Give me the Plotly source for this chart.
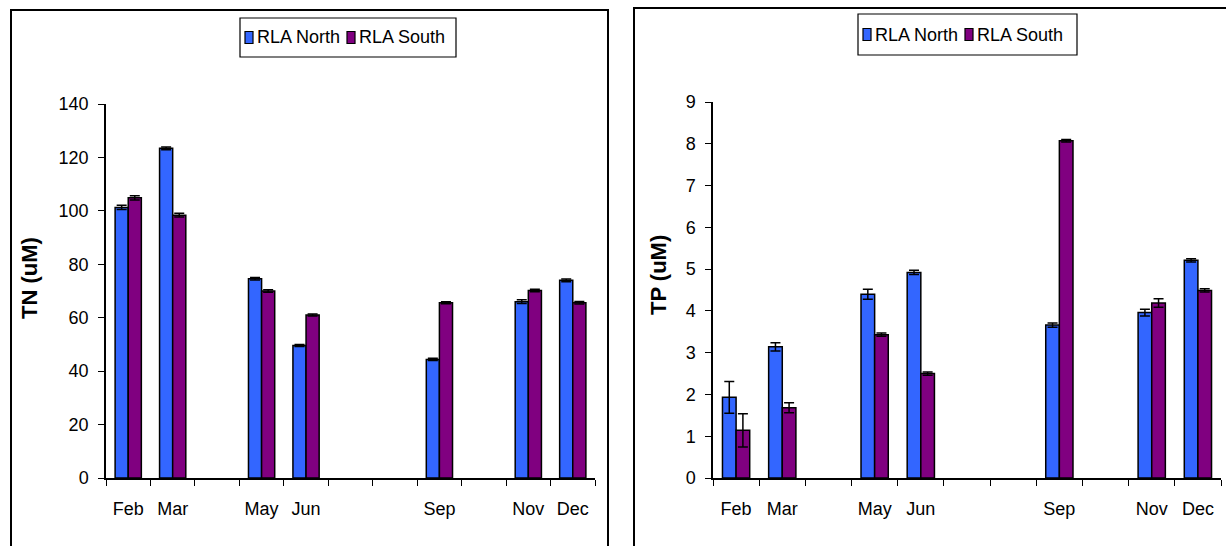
import plotly.graph_objects as go

# Sampling months (Jan not sampled); empty months keep their slot on the axis
months = ["Feb", "Mar", "Apr", "May", "Jun", "Jul", "Aug", "Sep", "Oct", "Nov", "Dec"]
month_labels = ["Feb", "Mar", "", "May", "Jun", "", "", "Sep", "", "Nov", "Dec"]

# Total nitrogen (uM)
tn_north = [101.3, 123.4, None, 74.6, 49.6, None, None, 44.4, None, 66.0, 74.0]
tn_north_err = [0.8, 0.5, 0, 0.5, 0.4, 0, 0, 0.4, 0, 0.7, 0.5]
tn_south = [104.9, 98.4, None, 70.0, 61.0, None, None, 65.6, None, 70.2, 65.6]
tn_south_err = [0.8, 0.7, 0, 0.5, 0.4, 0, 0, 0.4, 0, 0.5, 0.5]

# Total phosphorus (uM)
tp_north = [1.93, 3.14, None, 4.40, 4.92, None, None, 3.66, None, 3.96, 5.21]
tp_north_err = [0.38, 0.10, 0, 0.12, 0.05, 0, 0, 0.05, 0, 0.08, 0.04]
tp_south = [1.14, 1.68, None, 3.43, 2.50, None, None, 8.07, None, 4.19, 4.49]
tp_south_err = [0.40, 0.12, 0, 0.04, 0.04, 0, 0, 0.03, 0, 0.10, 0.04]

series_names = ["RLA North", "RLA South"]
NORTH_COLOR = "#3366FF"
SOUTH_COLOR = "#800080"
W, H = 1226, 546
FONT = "Liberation Sans, Arial, sans-serif"


def px_x(v):
    return v / W


def px_y(v):
    return 1 - v / H


def bar(name, values, errors, color, xaxis, yaxis):
    return go.Bar(
        name=name, x=months, y=values, showlegend=False,
        marker=dict(color=color, line=dict(color="black", width=1.5)),
        error_y=dict(type="data", array=errors, visible=True,
                     color="black", thickness=1.5, width=5),
        xaxis=xaxis, yaxis=yaxis,
    )


fig = go.Figure()
fig.add_trace(bar(series_names[0], tn_north, tn_north_err, NORTH_COLOR, "x", "y"))
fig.add_trace(bar(series_names[1], tn_south, tn_south_err, SOUTH_COLOR, "x", "y"))
fig.add_trace(bar(series_names[0], tp_north, tp_north_err, NORTH_COLOR, "x2", "y2"))
fig.add_trace(bar(series_names[1], tp_south, tp_south_err, SOUTH_COLOR, "x2", "y2"))

xaxis_common = dict(
    type="category", categoryorder="array", categoryarray=months,
    tickmode="array", tickvals=months, ticktext=month_labels,
    tickson="boundaries", ticks="outside", ticklen=6, tickwidth=1.2, tickcolor="black",
    showline=True, linecolor="black", linewidth=1.5, showgrid=False, zeroline=False,
    ticklabelstandoff=14, tickfont=dict(family=FONT, size=18, color="black"),
    fixedrange=True,
)
yaxis_common = dict(
    ticks="outside", ticklen=6, tickwidth=1.2, tickcolor="black",
    showline=True, linecolor="black", linewidth=1.5, showgrid=False, zeroline=False,
    ticklabelstandoff=6, tickfont=dict(family=FONT, size=18, color="black"),
    fixedrange=True,
)

fig.update_layout(
    width=W, height=H,
    margin=dict(l=0, r=0, t=0, b=0, autoexpand=False),
    paper_bgcolor="white", plot_bgcolor="white",
    barmode="group", bargap=0.41, bargroupgap=0,
    xaxis=dict(domain=[px_x(106), px_x(595)], anchor="y", **xaxis_common),
    yaxis=dict(domain=[px_y(478), px_y(104)], anchor="x", range=[0, 140],
               tickvals=[0, 20, 40, 60, 80, 100, 120, 140], **yaxis_common),
    xaxis2=dict(domain=[px_x(713), px_x(1221)], anchor="y2", **xaxis_common),
    yaxis2=dict(domain=[px_y(478), px_y(102)], anchor="x2", range=[0, 9],
                tickvals=list(range(10)), **yaxis_common),
    showlegend=False,
)

# Chart frames
fig.add_shape(type="rect", xref="paper", yref="paper",
              x0=px_x(11), x1=px_x(608), y0=px_y(560), y1=px_y(10),
              line=dict(color="black", width=2), fillcolor="rgba(0,0,0,0)", layer="below")
fig.add_shape(type="rect", xref="paper", yref="paper",
              x0=px_x(634), x1=px_x(1240), y0=px_y(560), y1=px_y(8),
              line=dict(color="black", width=2), fillcolor="rgba(0,0,0,0)", layer="below")


def add_legend(box_left, box_right, box_top, box_bottom, key_lefts, text_lefts):
    fig.add_shape(type="rect", xref="paper", yref="paper",
                  x0=px_x(box_left), x1=px_x(box_right),
                  y0=px_y(box_bottom), y1=px_y(box_top),
                  line=dict(color="black", width=1.2), fillcolor="white")
    mid = (box_top + box_bottom) / 2
    for name, color, kx, tx in zip(series_names, [NORTH_COLOR, SOUTH_COLOR], key_lefts, text_lefts):
        fig.add_shape(type="rect", xref="paper", yref="paper",
                      x0=px_x(kx), x1=px_x(kx + 8), y0=px_y(mid + 6), y1=px_y(mid - 6),
                      line=dict(color="black", width=1.2), fillcolor=color)
        fig.add_annotation(text=name, xref="paper", yref="paper",
                           x=px_x(tx), y=px_y(mid), xanchor="left", yanchor="middle",
                           showarrow=False, font=dict(family=FONT, size=18, color="black"))


add_legend(240, 456, 18, 57, [245, 347], [255, 357])
add_legend(858, 1077, 14, 55, [863, 965], [873, 975])

# Axis titles
title_font = dict(family=FONT, size=22, color="black")
fig.add_annotation(text="<b>TN (uM)</b>", textangle=-90, xref="paper", yref="paper",
                   x=px_x(29), y=px_y(278), xanchor="center", yanchor="middle",
                   showarrow=False, font=title_font)
fig.add_annotation(text="<b>TP (uM)</b>", textangle=-90, xref="paper", yref="paper",
                   x=px_x(658), y=px_y(275), xanchor="center", yanchor="middle",
                   showarrow=False, font=title_font)

fig.write_html("out.html")
